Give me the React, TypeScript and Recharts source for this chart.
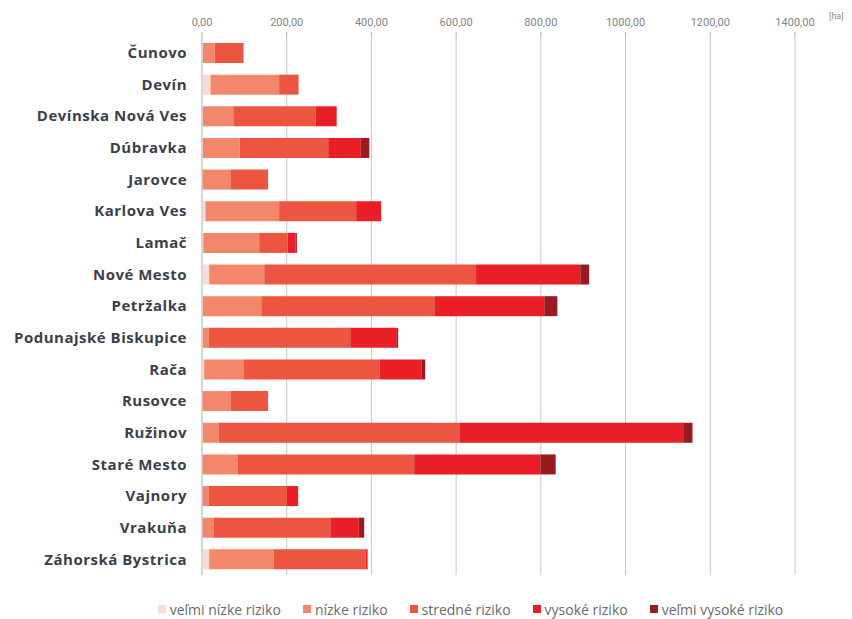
import React from 'react';
import { BarChart, Bar, XAxis, YAxis, CartesianGrid, Legend } from 'recharts';

const districts = [
    'Čunovo', 'Devín', 'Devínska Nová Ves', 'Dúbravka', 'Jarovce', 'Karlova Ves', 'Lamač',
    'Nové Mesto', 'Petržalka', 'Podunajské Biskupice', 'Rača', 'Rusovce', 'Ružinov',
    'Staré Mesto', 'Vajnory', 'Vrakuňa', 'Záhorská Bystrica',
];
const velmiNizke = [2, 20, 2, 2, 1, 8, 3, 17, 2, 2, 5, 1, 2, 1, 1, 1, 17];
const nizke = [28, 162, 72, 87, 66, 174, 132, 130, 138, 14, 94, 66, 37, 84, 15, 26, 153];
const stredne = [68, 46, 194, 209, 89, 182, 67, 500, 410, 334, 320, 89, 570, 416, 184, 276, 217];
const vysoke = [0, 0, 50, 77, 0, 59, 19, 246, 258, 110, 100, 0, 529, 298, 27, 67, 4];
const velmiVysoke = [0, 0, 0, 20, 0, 0, 3, 21, 31, 3, 8, 0, 20, 36, 0, 13, 0];
const xTicks = [0, 200, 400, 600, 800, 1000, 1200, 1400];

const series = [
    { key: 'vn', name: 'veľmi nízke riziko', color: '#fadcd6', values: velmiNizke },
    { key: 'n', name: 'nízke riziko', color: '#f3876c', values: nizke },
    { key: 's', name: 'stredné riziko', color: '#ec5641', values: stredne },
    { key: 'v', name: 'vysoké riziko', color: '#e91e26', values: vysoke },
    { key: 'vv', name: 'veľmi vysoké riziko', color: '#9a1b1f', values: velmiVysoke },
];

const data = districts.map((name, i) => {
    const row: any = { name };
    series.forEach((s) => {
        row[s.key] = s.values[i];
    });
    return row;
});

const fmt = (v: number) => v.toFixed(2).replace('.', ',');

// legend drawn by hand so the order stays as in the source
const LegendBox = () => (
    <div style={{ display: 'flex', justifyContent: 'center', gap: 22, height: 20, alignItems: 'center', paddingLeft: 146, fontFamily: 'Open Sans', fontSize: 14, color: '#6b6b6b' }}>
        {series.map((s) => (
            <div key={s.key} style={{ display: 'flex', alignItems: 'center', gap: 4 }}>
                <span style={{ width: 8, height: 8, background: s.color, display: 'inline-block' }} />
                <span>{s.name}</span>
            </div>
        ))}
    </div>
);

const App: React.FC = () => {
    return (
        <div style={{ position: 'absolute', left: 0, top: 0, width: 852, height: 619, background: '#fff' }}>
            <BarChart
                width={852}
                height={619}
                data={data}
                layout="vertical"
                margin={{ top: 7, right: 57, bottom: 24, left: 0 }}
                barSize={20}
            >
                <CartesianGrid horizontal={false} stroke="#c4c8ce" />
                <XAxis
                    type="number"
                    orientation="top"
                    domain={[0, 1400]}
                    ticks={xTicks}
                    tickFormatter={fmt}
                    axisLine={false}
                    tickLine={{ stroke: '#b0b0b0' }}
                    tickSize={5}
                    tickMargin={6}
                    tick={{ fill: '#858585', fontSize: 11, fontFamily: 'Roboto' }}
                />
                <YAxis
                    type="category"
                    dataKey="name"
                    width={202}
                    axisLine={{ stroke: '#c4c8ce' }}
                    tickLine={false}
                    tickMargin={9}
                    interval={0}
                    tick={{ fill: '#3b3f4b', fontSize: 15, fontWeight: 700, fontFamily: 'Open Sans', letterSpacing: 0.5 }}
                />
                <Legend verticalAlign="bottom" content={<LegendBox />} wrapperStyle={{ bottom: 0 }} />
                {series.map((s) => (
                    <Bar key={s.key} dataKey={s.key} name={s.name} stackId="a" fill={s.color} isAnimationActive={false} />
                ))}
            </BarChart>
            <div style={{ position: 'absolute', left: 829, top: 11, fontSize: 9, color: '#8a8a8a', fontFamily: 'Roboto' }}>[ha]</div>
        </div>
    );
};

export default App;
